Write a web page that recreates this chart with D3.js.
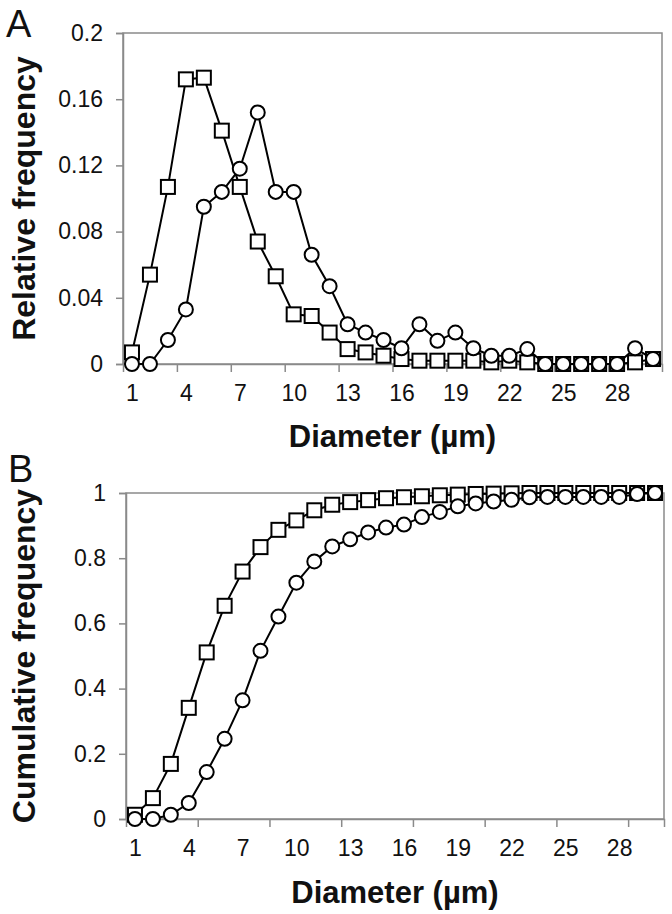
<!DOCTYPE html>
<html>
<head>
<meta charset="utf-8">
<script src="https://cdn.jsdelivr.net/npm/d3@7"></script>
<style>
  html, body { margin: 0; padding: 0; background: #fff; }
  svg { display: block; }
  text { font-family: "Liberation Sans", Arial, sans-serif; }
</style>
</head>
<body>
<svg id="chart" width="672" height="914"></svg>
<script>
// ---------- DATA ----------
const categories = [1,2,3,4,5,6,7,8,9,10,11,12,13,14,15,16,17,18,19,20,21,22,23,24,25,26,27,28,29,30];
const xTickLabels = [1,4,7,10,13,16,19,22,25,28];

// Panel A: relative frequency
const relSquares = [0.007,0.054,0.107,0.172,0.173,0.141,0.107,0.074,0.053,0.030,0.029,0.019,0.009,0.007,0.005,0.003,0.002,0.002,0.002,0.002,0.001,0.002,0.001,0,0,0,0,0,0.001,0.003];
const relCircles = [0,0,0.0145,0.033,0.095,0.104,0.118,0.152,0.104,0.104,0.066,0.047,0.024,0.019,0.0145,0.0095,0.024,0.014,0.019,0.0095,0.005,0.005,0.009,0,0,0,0,0,0.0095,0.003];
const relYTicks = [0,0.04,0.08,0.12,0.16,0.2];
const relYLabels = ["0","0.04","0.08","0.12","0.16","0.2"];

// Panel B: cumulative frequency
const cumSquares = [0.013,0.064,0.169,0.341,0.511,0.654,0.759,0.834,0.887,0.916,0.947,0.964,0.972,0.978,0.984,0.987,0.990,0.993,0.995,0.997,0.998,0.999,1,1,1,1,1,1,1,1];
const cumCircles = [0,0,0.013,0.049,0.144,0.246,0.364,0.516,0.621,0.725,0.790,0.836,0.858,0.879,0.894,0.903,0.926,0.942,0.959,0.968,0.974,0.979,0.987,0.988,0.988,0.988,0.988,0.988,0.997,1];
const cumYTicks = [0,0.2,0.4,0.6,0.8,1];
const cumYLabels = ["0","0.2","0.4","0.6","0.8","1"];

const xTitle = "Diameter (µm)";

// ---------- DRAW ----------
const svg = d3.select("#chart");
const frameColor = "#8a8a8a";
const tickFont = 23;
const titleFont = 31;

function panel(cfg) {
  const g = svg.append("g");
  const x = d3.scaleLinear().domain([0.5, categories.length + 0.5]).range([cfg.left, cfg.right]);
  const y = d3.scaleLinear().domain([0, cfg.yMax]).range([cfg.bottom, cfg.top]);

  // plot frame
  g.append("rect")
    .attr("x", cfg.left).attr("y", cfg.top)
    .attr("width", cfg.right - cfg.left).attr("height", cfg.bottom - cfg.top)
    .attr("fill", "none").attr("stroke", frameColor).attr("stroke-width", 1.5);

  // y axis
  const yAxis = d3.axisLeft(y).tickValues(cfg.yTicks)
    .tickFormat((d, i) => cfg.yLabels[i]).tickSize(7).tickPadding(13);
  const ya = g.append("g").attr("transform", `translate(${cfg.left},0)`).call(yAxis);
  ya.select(".domain").attr("stroke", frameColor).attr("stroke-width", 1.5);
  ya.selectAll(".tick line").attr("stroke", frameColor).attr("stroke-width", 1.5);
  ya.selectAll(".tick text").attr("font-size", tickFont).attr("fill", "#111")
    .attr("font-family", "'Liberation Sans', Arial, sans-serif");

  // x axis: tick marks at category boundaries
  const bounds = [];
  for (let k = cfg.tickEvery; k < categories.length; k += cfg.tickEvery) bounds.push(k + 0.5);
  const xTickAxis = d3.axisBottom(x).tickValues(bounds).tickFormat("").tickSize(8);
  const xt = g.append("g").attr("transform", `translate(0,${cfg.bottom})`).call(xTickAxis);
  xt.select(".domain").attr("stroke", frameColor).attr("stroke-width", 1.5);
  xt.selectAll(".tick line").attr("stroke", frameColor).attr("stroke-width", 1.5);

  // x labels at category centres
  const xLabAxis = d3.axisBottom(x).tickValues(xTickLabels).tickSize(0).tickPadding(0);
  const xl = g.append("g").attr("transform", `translate(0,${cfg.bottom})`).call(xLabAxis);
  xl.select(".domain").remove();
  xl.selectAll(".tick text").attr("font-size", tickFont).attr("fill", "#111")
    .attr("dy", null).attr("y", cfg.xLabelBaseline - cfg.bottom)
    .attr("font-family", "'Liberation Sans', Arial, sans-serif");

  // axis titles
  g.append("text")
    .attr("transform", `translate(${cfg.yTitleX},${(cfg.top + cfg.bottom) / 2}) rotate(-90)`)
    .attr("text-anchor", "middle").attr("font-weight", "bold").attr("font-size", titleFont + 1)
    .attr("fill", "#111").text(cfg.yTitle);
  g.append("text")
    .attr("x", (cfg.left + cfg.right) / 2).attr("y", cfg.xTitleBaseline)
    .attr("text-anchor", "middle").attr("font-weight", "bold").attr("font-size", titleFont)
    .attr("fill", "#111").text(xTitle);

  // panel letter
  g.append("text").attr("x", cfg.letterX).attr("y", cfg.letterBaseline)
    .attr("font-size", 38).attr("fill", "#111").text(cfg.letter);

  const line = d3.line().x((d, i) => x(categories[i])).y(d => y(d));

  // series 1: squares
  g.append("path").datum(cfg.squares).attr("d", line)
    .attr("fill", "none").attr("stroke", "#000").attr("stroke-width", 2);
  const s = 14;
  g.selectAll(null).data(cfg.squares).enter().append("rect")
    .attr("x", (d, i) => x(categories[i]) - s / 2)
    .attr("y", d => y(d) - s / 2)
    .attr("width", s).attr("height", s)
    .attr("fill", "#fff").attr("stroke", "#000").attr("stroke-width", 2);

  // series 2: circles
  g.append("path").datum(cfg.circles).attr("d", line)
    .attr("fill", "none").attr("stroke", "#000").attr("stroke-width", 2);
  g.selectAll(null).data(cfg.circles).enter().append("circle")
    .attr("cx", (d, i) => x(categories[i]))
    .attr("cy", d => y(d))
    .attr("r", 7)
    .attr("fill", "#fff").attr("stroke", "#000").attr("stroke-width", 2);
}

panel({
  left: 123, right: 662, top: 33, bottom: 364, yMax: 0.2,
  yTicks: relYTicks, yLabels: relYLabels, tickEvery: 3,
  squares: relSquares, circles: relCircles,
  yTitle: "Relative frequency", yTitleX: 35,
  xLabelBaseline: 401, xTitleBaseline: 447,
  letter: "A", letterX: 6, letterBaseline: 37
});

panel({
  left: 126, right: 664, top: 493, bottom: 819, yMax: 1,
  yTicks: cumYTicks, yLabels: cumYLabels, tickEvery: 4,
  squares: cumSquares, circles: cumCircles,
  yTitle: "Cumulative frequency", yTitleX: 35,
  xLabelBaseline: 856, xTitleBaseline: 903,
  letter: "B", letterX: 8, letterBaseline: 482
});
</script>
</body>
</html>
